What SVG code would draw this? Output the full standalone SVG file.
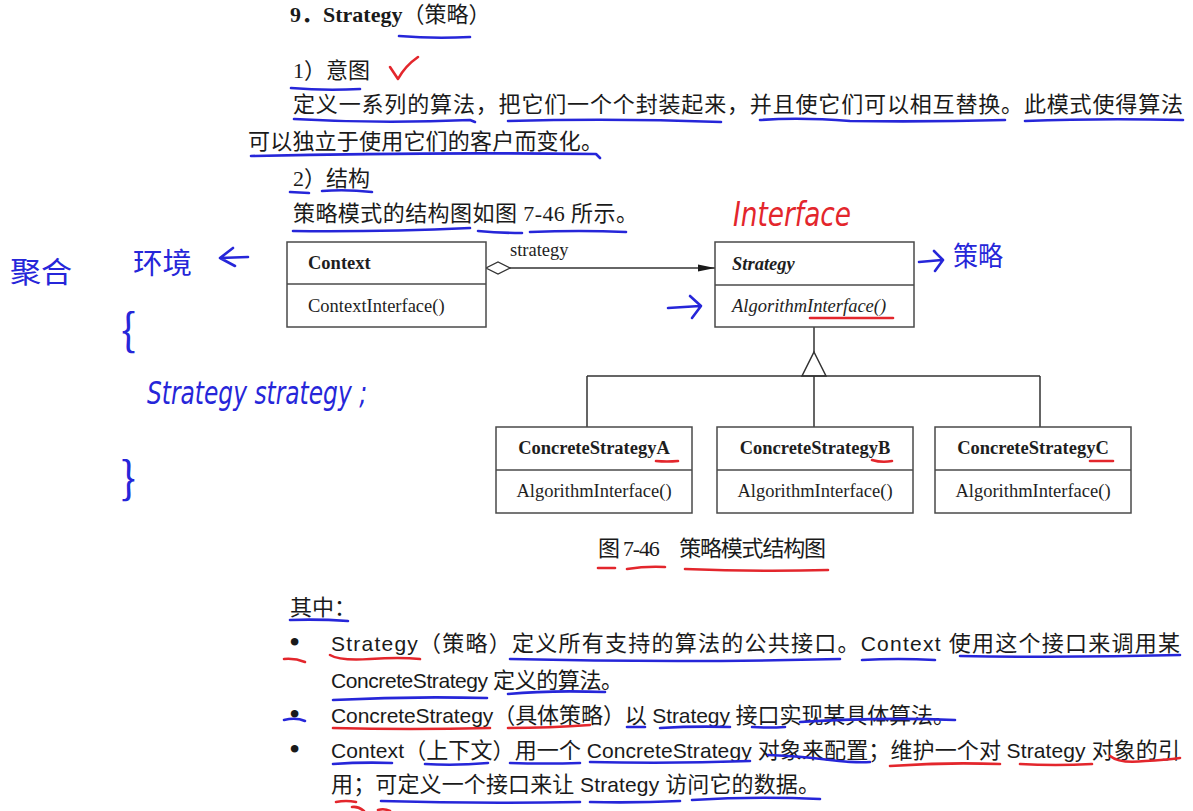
<svg xmlns="http://www.w3.org/2000/svg" width="1193" height="811" viewBox="0 0 1193 811">
<defs>
<style>
.bg{fill:#ffffff}
.body{font-family:"Liberation Serif","Noto Sans CJK SC",serif;font-size:22px;fill:#1a1a1a}
.lat{font-family:"Liberation Sans Narrow","Liberation Sans","Noto Sans CJK SC",sans-serif;font-size:21px}
.ser{font-family:"Liberation Serif","Noto Sans CJK SC",serif}
.bul{font-family:"Liberation Serif",serif;font-size:32px;fill:#1a1a1a}
.box{fill:#ffffff;stroke:#4a4a4a;stroke-width:1.5}
.div{stroke:#4a4a4a;stroke-width:1.5}
.cls{font-family:"Liberation Serif",serif;font-size:18.5px;fill:#1e1e1e}
.bold{font-weight:bold}
.it{font-style:italic}
.line{stroke:#333;stroke-width:1.5;fill:none}
.blue{stroke:#2626d9;stroke-width:2.6;fill:none;stroke-linecap:round;stroke-linejoin:round}
.red{stroke:#e3262c;stroke-width:2.6;fill:none;stroke-linecap:round;stroke-linejoin:round}
.hw{font-family:"Noto Sans CJK SC",sans-serif;fill:#2626d9}
.hwl{font-family:"DejaVu Sans","Noto Sans",sans-serif;font-style:italic;fill:#2626d9}
</style>
<marker id="diamond" viewBox="0 0 25 14" markerWidth="25" markerHeight="14" refX="0.5" refY="7" orient="auto" markerUnits="userSpaceOnUse">
<path d="M0.5,7 L12.5,1 L24.5,7 L12.5,13 Z" fill="#ffffff" stroke="#333" stroke-width="1.3"/>
</marker>
<marker id="arrow" viewBox="0 0 17 8" markerWidth="17" markerHeight="8" refX="17" refY="4" orient="auto" markerUnits="userSpaceOnUse">
<path d="M0,0.5 L17,4 L0,7.5 Z" fill="#1a1a1a"/>
</marker>
</defs>
<rect class="bg" x="0" y="0" width="1193" height="811"/>

<g id="text-top">
<text class="body" x="290" y="22" font-size="22.5"><tspan class="ser bold">9．Strategy</tspan>（策略）</text>
<text class="body" x="293" y="78">1）意图</text>
<text class="body" x="293" y="112" textLength="890" lengthAdjust="spacing">定义一系列的算法，把它们一个个封装起来，并且使它们可以相互替换。此模式使得算法</text>
<text class="body" x="248" y="149" textLength="355" lengthAdjust="spacing">可以独立于使用它们的客户而变化。</text>
<text class="body" x="293" y="186">2）结构</text>
<text class="body" x="293" y="221" textLength="345" lengthAdjust="spacing">策略模式的结构图如图 7-46 所示。</text>
</g>

<g id="connectors">
<path class="line" d="M486,268 H715" marker-start="url(#diamond)" marker-end="url(#arrow)"/>
<text class="cls" x="510" y="256" font-size="18">strategy</text>
<path class="line" d="M814,327 V352"/>
<polygon points="814,352 826,376 802,376" fill="#ffffff" stroke="#333" stroke-width="1.5"/>
<path class="line" d="M587,376 H1040 M587,376 V427 M814,376 V427 M1040,376 V427"/>
</g>

<g id="context">
<rect class="box" x="287" y="242" width="199" height="85"/>
<line class="div" x1="287" y1="284" x2="486" y2="284"/>
<text class="cls bold" x="308" y="269">Context</text>
<text class="cls" x="308" y="312">ContextInterface()</text>
</g>

<g id="strategy">
<rect class="box" x="715" y="242" width="199" height="85"/>
<line class="div" x1="715" y1="285" x2="914" y2="285"/>
<text class="cls bold it" x="732" y="270" font-size="19">Strategy</text>
<text class="cls it" x="732" y="312" font-size="19">AlgorithmInterface()</text>
</g>

<g id="concreteA">
<rect class="box" x="496" y="427" width="196" height="86"/>
<line class="div" x1="496" y1="470" x2="692" y2="470"/>
<text class="cls bold" x="594" y="454" text-anchor="middle">ConcreteStrategyA</text>
<text class="cls" x="594" y="497" text-anchor="middle">AlgorithmInterface()</text>
</g>
<g id="concreteB">
<rect class="box" x="717" y="427" width="196" height="86"/>
<line class="div" x1="717" y1="470" x2="913" y2="470"/>
<text class="cls bold" x="815" y="454" text-anchor="middle">ConcreteStrategyB</text>
<text class="cls" x="815" y="497" text-anchor="middle">AlgorithmInterface()</text>
</g>
<g id="concreteC">
<rect class="box" x="935" y="427" width="196" height="86"/>
<line class="div" x1="935" y1="470" x2="1131" y2="470"/>
<text class="cls bold" x="1033" y="454" text-anchor="middle">ConcreteStrategyC</text>
<text class="cls" x="1033" y="497" text-anchor="middle">AlgorithmInterface()</text>
</g>

<g id="caption">
<text class="body" x="598" y="556" font-size="20" textLength="228" lengthAdjust="spacing">图 7-46　策略模式结构图</text>
</g>

<g id="text-bottom">
<text class="body" x="290" y="615">其中：</text>
<text class="bul" x="289" y="653">•</text>
<text class="bul" x="289" y="725">•</text>
<text class="bul" x="289" y="760">•</text>
<text class="body" x="331" y="651" textLength="849" lengthAdjust="spacing"><tspan class="lat">Strategy</tspan>（策略）定义所有支持的算法的公共接口。<tspan class="lat">Context </tspan>使用这个接口来调用某</text>
<text class="body" x="331" y="688" textLength="292" lengthAdjust="spacing"><tspan class="lat">ConcreteStrategy </tspan>定义的算法。</text>
<text class="body" x="331" y="723" textLength="624" lengthAdjust="spacing"><tspan class="lat">ConcreteStrategy</tspan>（具体策略）以 <tspan class="lat">Strategy </tspan>接口实现某具体算法。</text>
<text class="body" x="331" y="758" textLength="849" lengthAdjust="spacing"><tspan class="lat">Context</tspan>（上下文）用一个 <tspan class="lat">ConcreteStrategy </tspan>对象来配置；维护一个对 <tspan class="lat">Strategy </tspan>对象的引</text>
<text class="body" x="331" y="792" textLength="489" lengthAdjust="spacing">用；可定义一个接口来让 <tspan class="lat">Strategy </tspan>访问它的数据。</text>
</g>

<g id="annotations">
<text class="hw" x="10" y="283" font-size="29" textLength="62" lengthAdjust="spacingAndGlyphs">聚合</text>
<text class="hw" x="133" y="274" font-size="29" textLength="59" lengthAdjust="spacingAndGlyphs">环境</text>
<path class="blue" d="M248,257 L220,258 M233,248 L220,258 L235,266"/>
<text class="hw" x="121" y="346" font-size="44">{</text>
<text class="hwl" x="147" y="404" font-size="32" textLength="220" lengthAdjust="spacingAndGlyphs">Strategy strategy ;</text>
<text class="hw" x="121" y="494" font-size="44">}</text>
<text x="733" y="226" font-family="DejaVu Sans, sans-serif" font-style="italic" font-size="34" fill="#e3262c" textLength="118" lengthAdjust="spacingAndGlyphs">Interface</text>
<path class="blue" d="M919,262 Q930,261 942,260 M934,251 L943,260 L935,271"/>
<text class="hw" x="953" y="266" font-size="27" textLength="50" lengthAdjust="spacingAndGlyphs">策略</text>
<path class="blue" d="M668,308 Q684,307 700,306 M690,296 L701,306 L692,318"/>
<path class="red" d="M390,67 L398,79 Q405,66 418,57"/>
<path class="blue" d="M399,36 Q434,39 470,37"/>
<path class="blue" d="M291,88 Q325,91 360,89"/>
<path class="blue" d="M294,119 Q380,124 470,120 L475,122"/>
<path class="blue" d="M508,121 Q615,118 721,122"/>
<path class="blue" d="M760,120 Q800,117 850,121 Q930,122 1005,120"/>
<path class="blue" d="M1025,121 Q1100,118 1183,120"/>
<path class="blue" d="M251,156 Q420,152 596,154 L600,158"/>
<path class="blue" d="M290,192 L309,193"/>
<path class="blue" d="M322,191 Q346,189 372,192"/>
<path class="blue" d="M293,231 Q380,232 470,228"/>
<path class="blue" d="M478,231 Q500,233 522,233"/>
<path class="blue" d="M530,232 Q580,230 626,232"/>
<path class="red" d="M810,318 L893,318"/>
<path class="red" d="M656,461 Q667,462 678,461"/>
<path class="red" d="M872,460 Q882,463 892,461"/>
<path class="red" d="M1090,461 L1113,461"/>
<path class="red" d="M598,568 L615,568"/>
<path class="red" d="M627,569 Q646,566 665,567"/>
<path class="red" d="M685,569 Q760,572 828,570"/>
<path class="blue" d="M290,620 Q319,619 348,621"/>
<path class="red" d="M284,659 Q295,658 305,662"/>
<path class="red" d="M330,655 Q340,661 370,659 Q400,657 420,659"/>
<path class="blue" d="M510,659 Q680,663 840,659"/>
<path class="blue" d="M862,660 Q898,658 935,660"/>
<path class="blue" d="M960,656 Q1070,658 1180,655"/>
<path class="blue" d="M333,700 Q410,696 487,698"/>
<path class="blue" d="M508,694 Q550,690 605,692"/>
<path class="blue" d="M284,720 Q296,717 305,721"/>
<path class="red" d="M333,728 Q410,730 490,728"/>
<path class="red" d="M508,728 Q550,728 590,725"/>
<path class="blue" d="M627,727 L645,727"/>
<path class="blue" d="M660,728 Q695,726 730,727"/>
<path class="blue" d="M752,727 Q768,728 785,727"/>
<path class="blue" d="M800,722 Q880,717 955,720"/>
<path class="blue" d="M333,764 Q362,762 392,763"/>
<path class="blue" d="M425,764 Q455,766 488,763"/>
<path class="blue" d="M510,763 Q545,764 580,763"/>
<path class="blue" d="M590,762 Q670,764 750,761"/>
<path class="blue" d="M768,755 Q800,756 830,760 Q855,763 870,762"/>
<path class="red" d="M890,766 Q945,762 1000,764"/>
<path class="red" d="M1020,764 Q1055,766 1092,764"/>
<path class="red" d="M1110,756 Q1120,764 1145,761 Q1165,760 1180,758"/>
<path class="red" d="M336,802 Q346,800 356,802"/>
<path class="blue" d="M381,801 Q480,804 580,802"/>
<path class="blue" d="M590,802 Q635,803 680,801"/>
<path class="blue" d="M692,800 Q755,796 820,799"/>
<path class="red" d="M352,807 Q358,806 364,811"/>
<path class="red" d="M378,810 Q384,808 390,811"/>
</g>
</svg>
